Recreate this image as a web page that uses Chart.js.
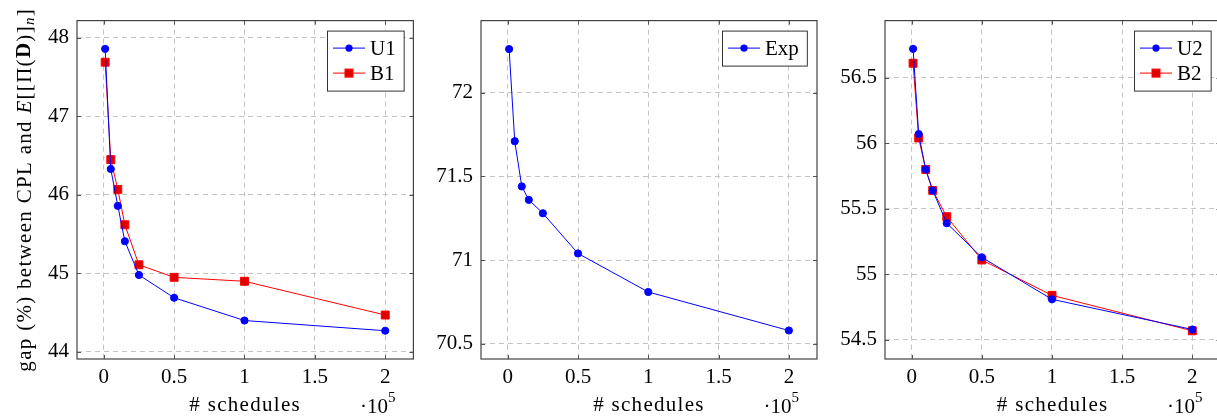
<!DOCTYPE html>
<html>
<head>
<meta charset="utf-8">
<script src="https://cdn.jsdelivr.net/npm/chart.js@4.4.1/dist/chart.umd.min.js"></script>
<style>
  body { margin: 0; background: #fff; width: 1217px; height: 419px; overflow: hidden; position: relative; }
  canvas { position: absolute; top: 0; }
</style>
</head>
<body>
<canvas id="chart1" width="420" height="419" style="left:0px"></canvas>
<canvas id="chart2" width="402" height="419" style="left:420px"></canvas>
<canvas id="chart3" width="405" height="419" style="left:822px"></canvas>
<script>
// number of schedules (x 10^5)
const schedules = [0.01, 0.05, 0.1, 0.15, 0.25, 0.5, 1, 2];

const U1 = [47.86, 46.33, 45.86, 45.41, 44.98, 44.69, 44.40, 44.27];
const B1 = [47.69, 46.45, 46.07, 45.62, 45.11, 44.95, 44.90, 44.47];
const Exp = [72.26, 71.71, 71.44, 71.36, 71.28, 71.04, 70.81, 70.58];
const U2 = [56.72, 56.07, 55.80, 55.64, 55.39, 55.13, 54.81, 54.58];
const B2 = [56.61, 56.04, 55.80, 55.64, 55.44, 55.11, 54.84, 54.57];

const xTicks = [0, 0.5, 1, 1.5, 2];
const yTicks1 = [44, 45, 46, 47, 48];
const yTicks2 = [70.5, 71, 71.5, 72];
const yTicks3 = [54.5, 55, 55.5, 56, 56.5];

const FONT = "'Liberation Serif', serif";
const BLUE = '#0000ff';
const RED = '#ff0000';

function serie(label, values, color, marker) {
  return {
    label: label,
    data: schedules.map((x, i) => ({ x: x, y: values[i] })),
    borderColor: color,
    backgroundColor: marker === 'rect' ? '#e00000' : color,
    pointBorderColor: color,
    borderWidth: 1,
    pointStyle: marker,
    pointRadius: marker === 'rect' ? 5.6 : 3.6,
    pointBorderWidth: 1,
    tension: 0
  };
}

function drawLegend(ctx, chart) {
  const a = chart.chartArea;
  const sets = chart.data.datasets;
  ctx.font = '21px ' + FONT;
  let tw = 0;
  sets.forEach(d => { tw = Math.max(tw, ctx.measureText(d.label).width); });
  const w = 6 + 32 + 5 + tw + 8;
  const h = sets.length * 25 + 10;
  const x0 = Math.round(a.right - 10 - w);
  const y0 = a.top + 10;
  ctx.fillStyle = '#fff';
  ctx.fillRect(x0, y0, w, h);
  ctx.strokeStyle = '#333';
  ctx.lineWidth = 1;
  ctx.strokeRect(x0 + 0.5, y0 + 0.5, w, h);
  sets.forEach((d, i) => {
    const cy = y0 + 17.5 + i * 25;
    ctx.strokeStyle = d.borderColor;
    ctx.beginPath();
    ctx.moveTo(x0 + 6, cy);
    ctx.lineTo(x0 + 38, cy);
    ctx.stroke();
    ctx.fillStyle = d.backgroundColor;
    if (d.pointStyle === 'rect') {
      ctx.fillRect(x0 + 22 - 4, cy - 4, 8, 8);
      ctx.strokeRect(x0 + 22 - 4, cy - 4, 8, 8);
    } else {
      ctx.beginPath();
      ctx.arc(x0 + 22, cy, 3.6, 0, Math.PI * 2);
      ctx.fill();
    }
    ctx.fillStyle = '#000';
    ctx.textBaseline = 'middle';
    ctx.textAlign = 'left';
    ctx.fillText(d.label, x0 + 43, cy + 1);
  });
}

function drawYTitle(ctx, chart) {
  const a = chart.chartArea;
  const parts = [
    { t: 'gap (%) between CPL and ', f: '21px ' + FONT, dy: 0 },
    { t: 'E', f: 'italic 21px ' + FONT, dy: 0 },
    { t: '[[\u03A0(', f: '21px ' + FONT, dy: 0 },
    { t: 'D', f: 'bold 21px ' + FONT, dy: 0 },
    { t: ')]', f: '21px ' + FONT, dy: 0 },
    { t: 'n', f: 'italic 15px ' + FONT, dy: 5 },
    { t: ']', f: '21px ' + FONT, dy: 0 }
  ];
  ctx.save();
  ctx.letterSpacing = '1.3px';
  let total = 0;
  parts.forEach(p => { ctx.font = p.f; p.w = ctx.measureText(p.t).width; total += p.w; });
  ctx.translate(25, (a.top + a.bottom) / 2);
  ctx.rotate(-Math.PI / 2);
  ctx.fillStyle = '#000';
  ctx.textBaseline = 'middle';
  ctx.textAlign = 'left';
  let x = -total / 2;
  parts.forEach(p => {
    ctx.font = p.f;
    ctx.fillText(p.t, x, p.dy);
    x += p.w;
  });
  ctx.restore();
}

const extras = {
  id: 'extras',
  afterDraw(chart, args, opts) {
    const ctx = chart.ctx;
    const a = chart.chartArea;
    const xs = chart.scales.x, ys = chart.scales.y;
    ctx.save();
    // inner tick marks
    ctx.strokeStyle = '#555';
    ctx.lineWidth = 1;
    ctx.beginPath();
    xs.ticks.forEach(t => {
      const px = Math.round(xs.getPixelForValue(t.value)) + 0.5;
      ctx.moveTo(px, a.bottom); ctx.lineTo(px, a.bottom - 4);
      ctx.moveTo(px, a.top); ctx.lineTo(px, a.top + 4);
    });
    ys.ticks.forEach(t => {
      const py = Math.round(ys.getPixelForValue(t.value)) + 0.5;
      ctx.moveTo(a.left, py); ctx.lineTo(a.left + 4, py);
      ctx.moveTo(a.right, py); ctx.lineTo(a.right - 4, py);
    });
    ctx.stroke();
    // frame
    ctx.strokeStyle = '#444';
    ctx.lineWidth = 1.2;
    ctx.strokeRect(a.left, a.top, a.right - a.left, a.bottom - a.top);
    // legend
    drawLegend(ctx, chart);
    // x title
    ctx.fillStyle = '#000';
    ctx.font = '21px ' + FONT;
    ctx.letterSpacing = '1.3px';
    ctx.textAlign = 'center';
    ctx.textBaseline = 'middle';
    ctx.fillText('# schedules', (a.left + a.right) / 2, 405);
    ctx.letterSpacing = '0px';
    // scale factor
    ctx.font = '15px ' + FONT;
    const w5 = ctx.measureText('5').width;
    ctx.textAlign = 'left';
    ctx.fillText('5', a.right - 18 - w5, 398);
    ctx.font = '21px ' + FONT;
    ctx.textAlign = 'right';
    ctx.fillText('\u00B710', a.right - 18 - w5, 407);
    if (opts.yTitle) drawYTitle(ctx, chart);
    ctx.restore();
  }
};

function graficar(id, datasets, yMin, yMax, yTicks, plotLeft, rightPad, yTitle) {
  new Chart(document.getElementById(id), {
    type: 'line',
    data: { datasets: datasets },
    plugins: [extras],
    options: {
      responsive: false,
      animation: false,
      events: [],
      layout: { padding: { top: 19, right: rightPad, left: 0, bottom: 0 } },
      plugins: {
        legend: { display: false },
        tooltip: { enabled: false },
        extras: { yTitle: yTitle }
      },
      scales: {
        x: {
          type: 'linear',
          min: -0.19,
          max: 2.2,
          afterBuildTicks: s => { s.ticks = xTicks.map(v => ({ value: v })); },
          afterFit: s => { s.height = 60; },
          grid: { color: '#c4c4c4', drawTicks: false, lineWidth: 1 },
          border: { display: false, dash: [5, 4] },
          ticks: { color: '#000', padding: 6, font: { family: FONT, size: 21 }, callback: v => String(v) }
        },
        y: {
          type: 'linear',
          min: yMin,
          max: yMax,
          afterBuildTicks: s => { s.ticks = yTicks.map(v => ({ value: v })); },
          afterFit: s => { s.width = plotLeft; },
          grid: { color: '#c4c4c4', drawTicks: false, lineWidth: 1 },
          border: { display: false, dash: [5, 4] },
          ticks: { color: '#000', padding: 8, font: { family: FONT, size: 21 }, callback: v => String(v) }
        }
      }
    }
  });
}

graficar('chart1', [serie('U1', U1, BLUE, 'circle'), serie('B1', B1, RED, 'rect')],
  43.91, 48.22, yTicks1, 77, 3, true);
graficar('chart2', [serie('Exp', Exp, BLUE, 'circle')],
  70.41, 72.43, yTicks2, 61, 2, false);
graficar('chart3', [serie('U2', U2, BLUE, 'circle'), serie('B2', B2, RED, 'rect')],
  54.355, 56.935, yTicks3, 63, 2, false);
</script>
</body>
</html>
